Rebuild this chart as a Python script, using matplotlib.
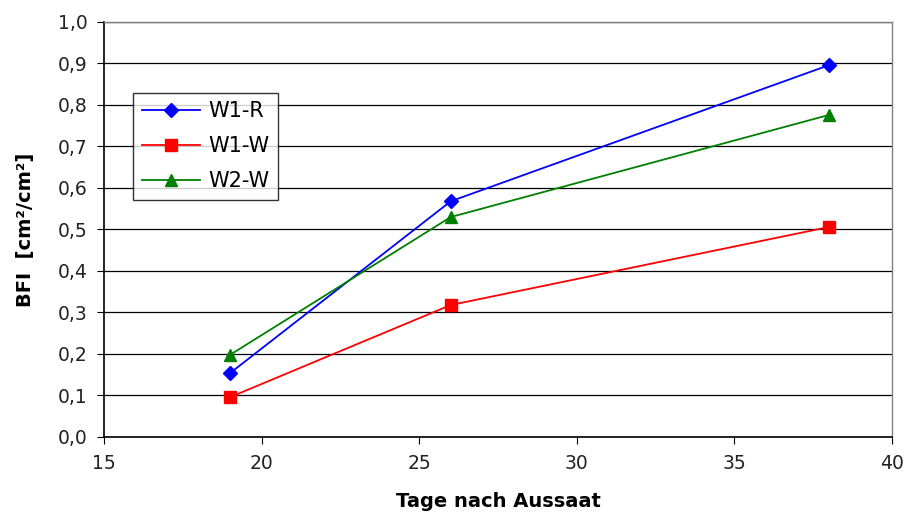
import matplotlib
matplotlib.use("Agg")
import matplotlib.pyplot as plt
from matplotlib.ticker import FuncFormatter, MultipleLocator

days = [19, 26, 38]
w1_r = [0.154, 0.568, 0.896]
w1_w = [0.096, 0.318, 0.506]
w2_w = [0.198, 0.530, 0.776]
series = [("W1-R", w1_r, "#0000FF", "D", 7), ("W1-W", w1_w, "#FF0000", "s", 8), ("W2-W", w2_w, "#008000", "^", 9)]

plt.rcParams['font.family'] = ['DejaVu Sans']
fig = plt.figure(figsize=(9.07, 5.15), dpi=100)
ax = fig.add_axes([0.1147, 0.1515, 0.8688, 0.8058])

for name, vals, col, m, ms in series:
    ax.plot(days, vals, color=col, marker=m, markersize=ms, linewidth=1.3, label=name, zorder=3)

ax.set_xlim(15, 40)
ax.set_ylim(0, 1.0)
ax.xaxis.set_major_locator(MultipleLocator(5))
ax.yaxis.set_major_locator(MultipleLocator(0.1))
ax.yaxis.set_major_formatter(FuncFormatter(lambda v, p: f"{v:.1f}".replace(".", ",")))
ax.yaxis.grid(True, color="black", linewidth=0.9)
ax.set_axisbelow(True)
ax.tick_params(axis="both", labelsize=13.5, direction="out", length=5, color="black", pad=7,
               labelcolor="#222222")
for s in ["left", "bottom"]:
    ax.spines[s].set_color("black")
    ax.spines[s].set_linewidth(1.2)
for s in ["top", "right"]:
    ax.spines[s].set_color("#808080")
    ax.spines[s].set_linewidth(1.0)

ax.set_xlabel("Tage nach Aussaat", fontsize=14, fontweight="bold", labelpad=14)
ax.set_ylabel("BFI  [cm²/cm²]", fontsize=14, fontweight="bold", labelpad=16)

leg = ax.legend(loc="upper left", bbox_to_anchor=(0.037, 0.829), fontsize=15, frameon=True,
                fancybox=False, edgecolor="black", handlelength=2.8, borderpad=0.4,
                labelspacing=0.72, handletextpad=0.4, borderaxespad=0)
leg.get_frame().set_linewidth(1.0)

fig.savefig("out.png", dpi=100)
